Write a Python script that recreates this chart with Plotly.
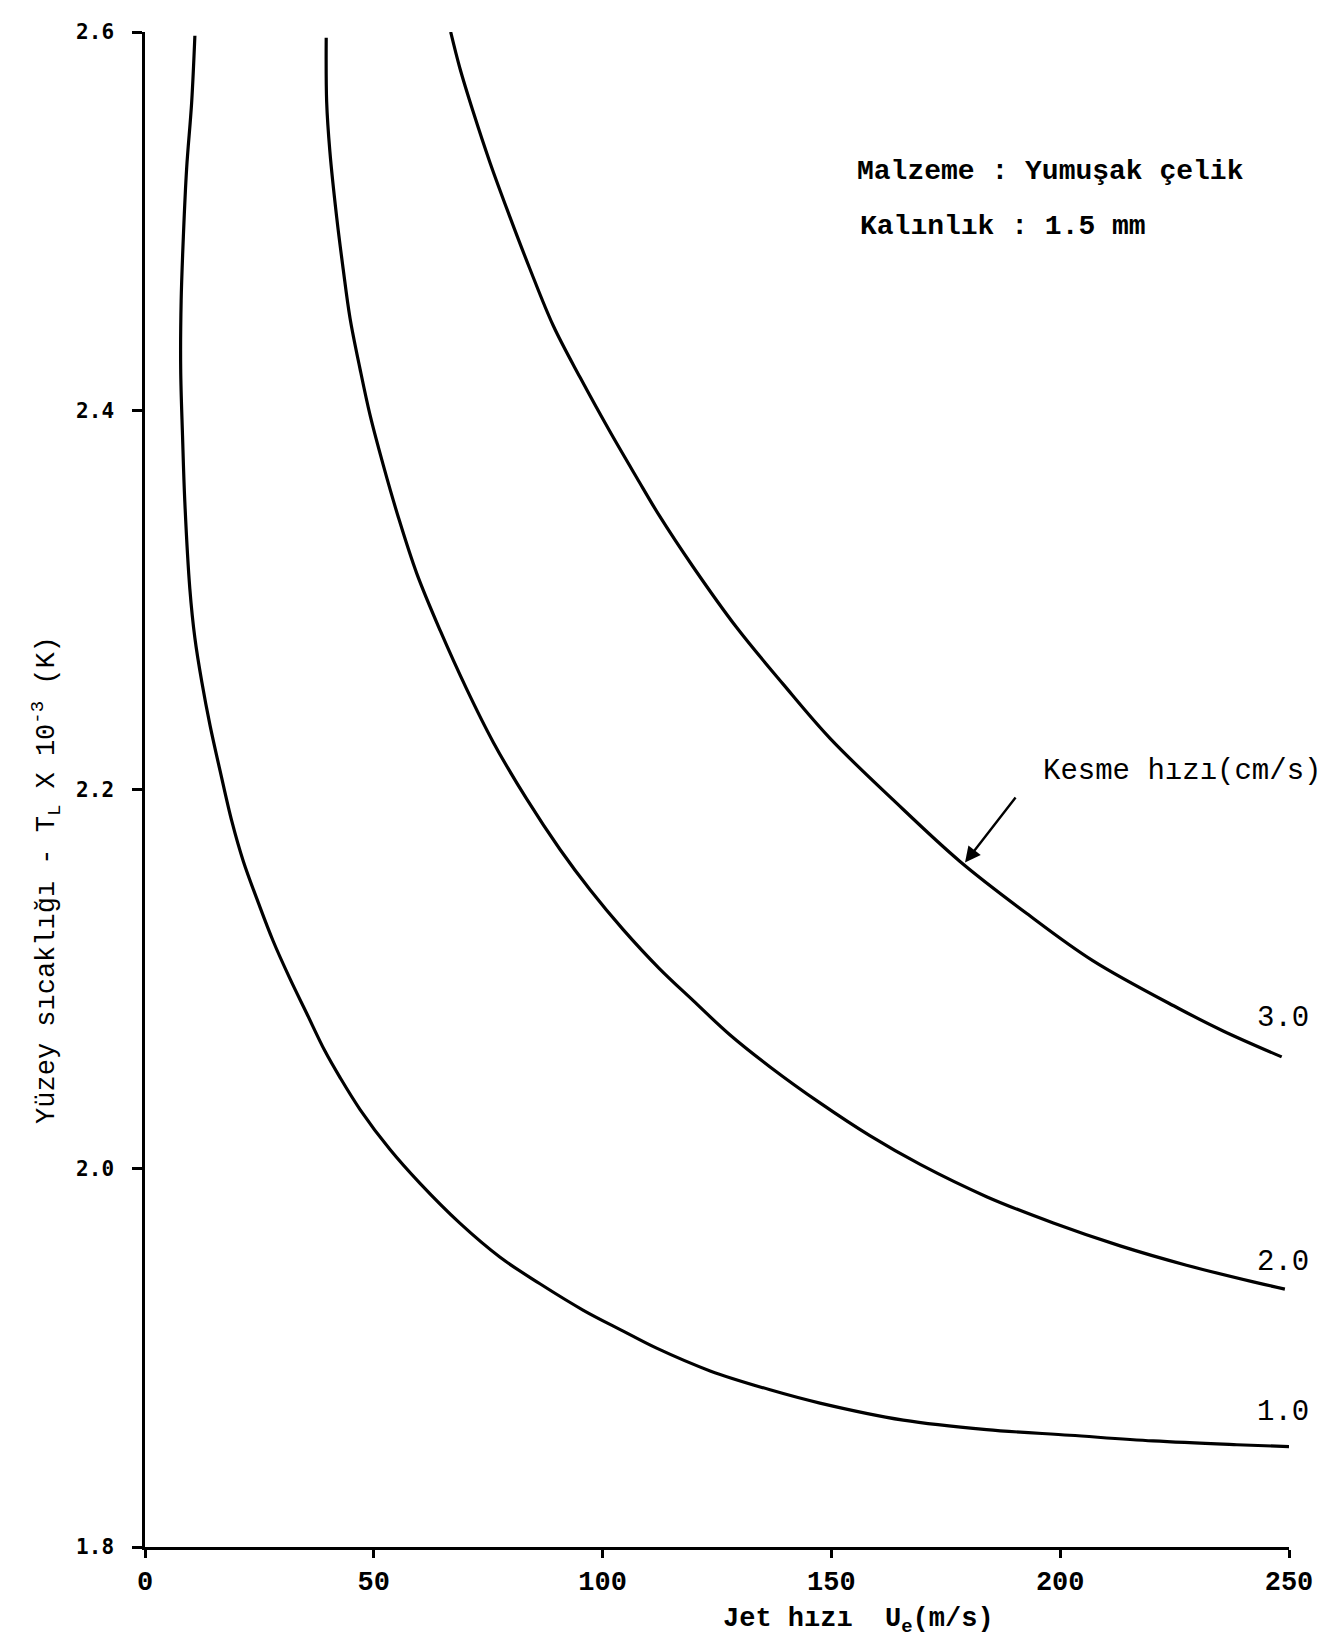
import plotly.graph_objects as go

# Curve data (Jet hızı Ue [m/s] vs T_L x 10^-3 [K]), cutting speed 1.0 / 2.0 / 3.0 cm/s
x_10 = [10.9, 10.2, 9.1, 8.4, 7.9, 7.8, 8.2, 8.7, 9.8, 10.9, 12.4, 14.2, 16.4, 19.0, 21.5, 24.8, 28.0,
        31.7, 35.3, 39.3, 42.6, 47.0, 53.5, 60.1, 68.8, 77.6, 86.3, 95.8, 104.5, 111.8, 123.5, 136.6,
        147.5, 165.7, 183.9, 202.1, 220.3, 238.6, 250.0]
y_10 = [2.598, 2.563, 2.528, 2.493, 2.458, 2.422, 2.387, 2.352, 2.306, 2.280, 2.257, 2.234, 2.210,
        2.183, 2.162, 2.140, 2.120, 2.100, 2.082, 2.062, 2.048, 2.031, 2.010, 1.992, 1.971, 1.953,
        1.939, 1.925, 1.914, 1.905, 1.893, 1.883, 1.876, 1.867, 1.862, 1.859, 1.856, 1.854, 1.853]

x_20 = [39.6, 39.7, 40.4, 41.9, 43.3, 44.8, 47.0, 49.2, 52.1, 55.4, 59.4, 64.5, 70.3, 76.1, 83.4,
        90.7, 97.3, 104.5, 112.3, 119.8, 127.8, 136.6, 147.5, 158.4, 169.4, 183.9, 198.5, 213.1,
        227.6, 242.2, 249.1]
y_20 = [2.597, 2.563, 2.537, 2.502, 2.475, 2.449, 2.422, 2.3975, 2.371, 2.3435, 2.314, 2.284, 2.253,
        2.225, 2.195, 2.1683, 2.1469, 2.126, 2.1057, 2.0885, 2.0705, 2.0535, 2.0345, 2.0172, 2.002,
        1.985, 1.9711, 1.959, 1.9488, 1.940, 1.9362]

x_30 = [66.8, 68.8, 71.7, 75.4, 79.8, 84.1, 89.2, 95.1, 101.6, 107.5, 112.3, 119.8, 129.3, 139.5,
        149.7, 163.5, 178.1, 192.7, 207.2, 225.8, 235.6, 248.4]
y_30 = [2.600, 2.581, 2.558, 2.531, 2.502, 2.475, 2.445, 2.4175, 2.389, 2.3645, 2.345, 2.3175, 2.2855,
        2.2555, 2.227, 2.1945, 2.162, 2.1345, 2.1095, 2.0845, 2.0725, 2.0588]

curve_labels = ["1.0", "2.0", "3.0"]
label_x = [248.6, 248.6, 248.6]
label_y = [1.871, 1.950, 2.079]

x_ticks = [0, 50, 100, 150, 200, 250]
y_ticks = [1.8, 2.0, 2.2, 2.4, 2.6]
y_tick_text = ["1.8", "2.0", "2.2", "2.4", "2.6"]

MONO = "Liberation Mono, DejaVu Sans Mono, monospace"
MONO2 = "DejaVu Sans Mono, Liberation Mono, monospace"

fig = go.Figure()
for xs, ys in [(x_10, y_10), (x_20, y_20), (x_30, y_30)]:
    fig.add_trace(go.Scatter(x=xs, y=ys, mode="lines",
                             line=dict(color="black", width=3.2, shape="spline", smoothing=1.0),
                             showlegend=False, hoverinfo="skip"))

annotations = []
for lab, lx, ly in zip(curve_labels, label_x, label_y):
    annotations.append(dict(x=lx, y=ly, xref="x", yref="y", text=lab, showarrow=False,
                            font=dict(family=MONO, size=29, color="black"), xanchor="center", yanchor="middle"))

annotations.append(dict(x=195.9, y=2.2095, xref="x", yref="y", text="Kesme hızı(cm/s)", showarrow=False,
                        font=dict(family=MONO, size=29, color="black"), xanchor="left", yanchor="middle"))
annotations.append(dict(x=179.2, y=2.1614, xref="x", yref="y", ax=190.5, ay=2.1966, axref="x", ayref="y",
                        text="", showarrow=True, arrowhead=2, arrowsize=1.3, arrowwidth=2.4, arrowcolor="black"))
annotations.append(dict(x=155.2, y=2.5265, xref="x", yref="y", text="<b>Malzeme : Yumuşak çelik</b>",
                        showarrow=False, font=dict(family=MONO, size=28, color="black"),
                        xanchor="left", yanchor="middle"))
annotations.append(dict(x=155.8, y=2.4975, xref="x", yref="y", text="<b>Kalınlık : 1.5 mm</b>",
                        showarrow=False, font=dict(family=MONO, size=28, color="black"),
                        xanchor="left", yanchor="middle"))
annotations.append(dict(x=0.6238, y=-0.0488, xref="paper", yref="paper",
                        text="<b>Jet hızı  U<sub>e</sub>(m/s)</b>",
                        showarrow=False, font=dict(family=MONO, size=27, color="black"),
                        xanchor="center", yanchor="middle"))
annotations.append(dict(x=-0.0857, y=0.4403, xref="paper", yref="paper",
                        text="Yüzey sıcaklığı - T<sub>L</sub> X 10<sup>-3</sup> (K)", textangle=-90,
                        showarrow=False, font=dict(family=MONO, size=27, color="black"),
                        xanchor="center", yanchor="middle"))

fig.update_layout(
    width=1318, height=1630,
    margin=dict(l=137, r=37, t=22, b=91),
    paper_bgcolor="white", plot_bgcolor="white",
    font=dict(family=MONO, size=20, color="black"),
    annotations=annotations,
    xaxis=dict(range=[0, 250], tickvals=x_ticks, ticks="outside", ticklen=8, tickwidth=2.5, tickcolor="black",
               showline=True, linecolor="black", linewidth=2.5, showgrid=False, zeroline=False,
               tickfont=dict(family=MONO, size=27, color="black", weight="bold")),
    yaxis=dict(range=[1.8, 2.6], tickvals=y_ticks, ticktext=y_tick_text, ticks="outside", ticklen=10,
               tickwidth=2.5, tickcolor="black", showline=True, linecolor="black", linewidth=2.5,
               showgrid=False, zeroline=False, ticklabelstandoff=14,
               tickfont=dict(family=MONO2, size=21, color="black", weight="bold")),
)
fig.write_html("out.html")
